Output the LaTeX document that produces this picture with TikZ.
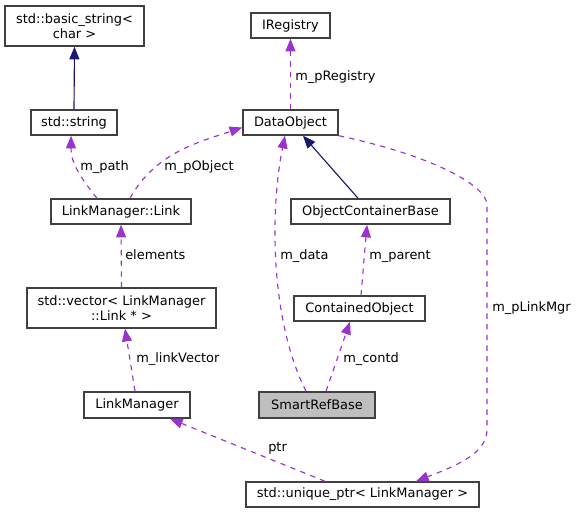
\documentclass[tikz,border=0pt]{standalone}
\usepackage{fontspec}
\setmainfont{DejaVu Sans}
\usetikzlibrary{arrows.meta}

\definecolor{usePurple}{HTML}{9A32CD}
\definecolor{inhNavy}{HTML}{191970}
\definecolor{mainGray}{HTML}{BFBFBF}
\newdimen\px \px=0.75pt

\tikzstyle{classBox}=[shape=rectangle,draw=black!75,fill=white,line width=1.1pt,inner sep=0pt,minimum height=25\px,align=center]
\tikzstyle{mainBox}=[classBox,fill=mainGray]
\tikzstyle{useEdge}=[draw=usePurple,line width=0.85pt,dash pattern=on 4pt off 4pt,-{Triangle[length=9.5pt,width=7.5pt]}]
\tikzstyle{inhEdge}=[draw=inhNavy,line width=0.85pt,-{Triangle[length=9.5pt,width=7.5pt]}]
\tikzstyle{edgeLabel}=[inner sep=0pt,anchor=west]

\begin{document}
\begin{tikzpicture}[x=0.75pt,y=-0.75pt,font=\fontsize{9.7}{11}\selectfont]
        \useasboundingbox (0,0) rectangle (577,513);

        % classes
        \node[classBox,minimum width=139\px,minimum height=40\px] (bstr) at (74.5,26) {std::basic\_string<\\char >};
        \node[classBox,minimum width=86\px] (str) at (74,122.5) {std::string};
        \node[classBox,minimum width=79\px] (ireg) at (290.5,25.5) {IRegistry};
        \node[classBox,minimum width=95\px] (dobj) at (290.5,122.5) {DataObject};
        \node[classBox,minimum width=140\px] (link) at (121,211.5) {LinkManager::Link};
        \node[classBox,minimum width=159\px] (ocb) at (370.5,211.5) {ObjectContainerBase};
        \node[classBox,minimum width=189\px,minimum height=40\px] (vec) at (121.5,308) {std::vector< LinkManager\\::Link * >};
        \node[classBox,minimum width=131\px] (cobj) at (359.5,308.5) {ContainedObject};
        \node[classBox,minimum width=106\px,minimum height=26\px] (lmgr) at (137,405) {LinkManager};
        \node[mainBox,minimum width=116\px,minimum height=26\px] (srb) at (317,405) {SmartRefBase};
        \node[classBox,minimum width=233\px] (uptr) at (362.5,494.5) {std::unique\_ptr< LinkManager >};

        % inheritance
        \draw[inhEdge] (str.north) -- (bstr.south);
        \draw[inhEdge] ([xshift=-12.5\px]ocb.north) -- ([xshift=12.5\px]dobj.south);

        % usage
        \draw[useEdge] (dobj.north) -- (ireg.south);
        \draw[useEdge] ([xshift=-24\px]link.north) .. controls +(-20,-25) and +(0,25) .. ([xshift=-3\px]str.south);
        \draw[useEdge] ([xshift=9\px]link.north) .. controls +(25,-45) and +(-45,15) .. ([yshift=-5\px]dobj.west);
        \draw[useEdge] ([xshift=-11\px]srb.north) .. controls (270,320) and (270,210) .. ([xshift=-5.5\px]dobj.south);
        \draw[useEdge] (vec.north) -- (link.south);
        \draw[useEdge] ([xshift=1.5\px]cobj.north) -- ([xshift=-3.5\px]ocb.south);
        \draw[useEdge] ([xshift=-2\px]lmgr.north) -- ([xshift=3.5\px]vec.south);
        \draw[useEdge] ([xshift=9\px]srb.north) -- ([xshift=-9.5\px]cobj.south);
        \draw[useEdge] ([xshift=-37.5\px]uptr.north) -- ([xshift=33\px]lmgr.south);
        \draw[useEdge] (dobj.south east) .. controls (430,155) and (487,185) .. (487,205)
                -- (487,430) .. controls (487,455) and (450,468) .. ([xshift=53.5\px]uptr.north);

        % labels
        \node[edgeLabel] (lreg) at (295,77) {m\_pRegistry};
        \node[edgeLabel] (lpath) at (80,167) {m\_path};
        \node[edgeLabel] (lpobj) at (164,167) {m\_pObject};
        \node[edgeLabel] (lelem) at (125,255) {elements};
        \node[edgeLabel] (ldata) at (280,256) {m\_data};
        \node[edgeLabel] (lparent) at (369,256) {m\_parent};
        \node[edgeLabel] (lmgrlbl) at (492,308) {m\_pLinkMgr};
        \node[edgeLabel] (lvec) at (136,359) {m\_linkVector};
        \node[edgeLabel] (lcontd) at (343,359) {m\_contd};
        \node[edgeLabel] (lptr) at (268,448) {ptr};
    \end{tikzpicture}
\end{document}
